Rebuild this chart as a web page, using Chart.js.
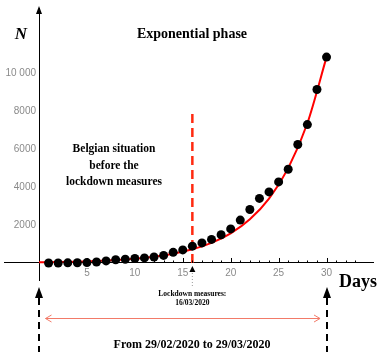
<!DOCTYPE html>
<html>
<head>
<meta charset="utf-8">
<script src="https://cdn.jsdelivr.net/npm/chart.js@4.4.1/dist/chart.umd.min.js"></script>
<style>
html,body{margin:0;padding:0;background:#fff;}
canvas{display:block;}
</style>
</head>
<body>
<canvas id="c" width="378" height="352"></canvas>
<script>
// ---- data ----
const days = [1,2,3,4,5,6,7,8,9,10,11,12,13,14,15,16,17,18,19,20,21,22,23,24,25,26,27,28,29,30];
const cases = [1,2,8,13,23,50,109,169,200,239,267,314,399,559,689,886,1058,1243,1486,1795,2257,2815,3401,3743,4269,4937,6235,7284,9134,10836];
const fitDays = [0,2,4,6,8,10,12,14,16,18,20,22,24,26,28,30];
const fitN = [33,48,70,104,153,225,332,489,720,1060,1562,2301,3390,4993,7356,10836];
const lockdownDay = [16,16];
const lockdownN = [0,7900];
const xLabelValues = [5,10,15,20,25,30];
const yLabelValues = [2000,4000,6000,8000,10000];
const yLabelTexts = ['2000','4000','6000','8000','10 000'];
const titleText = 'Exponential phase';
const yAxisName = 'N';
const xAxisName = 'Days';
const noteLines = ['Belgian situation','before the','lockdown measures'];
const lockdownLines = ['Lockdown measures:','16/03/2020'];
const periodText = 'From 29/02/2020 to 29/03/2020';

const SERIF = '"Liberation Serif", "DejaVu Serif", serif';
const SANS = '"Liberation Sans", Arial, sans-serif';

const annot = {
  id: 'annot',
  afterDraw(chart) {
    const {ctx, scales: {x, y}, chartArea} = chart;
    const x0 = x.getPixelForValue(0);
    const y0 = y.getPixelForValue(0);
    ctx.save();
    // inward tick marks
    ctx.strokeStyle = '#000';
    ctx.lineWidth = 1;
    y.ticks.forEach(t => {
      const v = t.value;
      if (v === 0 || Math.abs(v % 500) > 1e-6) return;
      const len = (v > 0 && v % 2000 === 0) ? 4 : 2.5;
      const py = Math.round(y.getPixelForValue(v)) + 0.5;
      ctx.beginPath(); ctx.moveTo(x0, py); ctx.lineTo(x0 + len, py); ctx.stroke();
    });
    x.ticks.forEach(t => {
      const v = t.value;
      if (v <= 0 || Math.abs(v - Math.round(v)) > 1e-6) return;
      const len = (v % 5 === 0) ? 5 : 2.5;
      const px = Math.round(x.getPixelForValue(v)) + 0.5;
      ctx.beginPath(); ctx.moveTo(px, y0); ctx.lineTo(px, y0 - len); ctx.stroke();
    });
    // y tick labels (drawn from the y scale)
    ctx.fillStyle = '#8a8a8a';
    ctx.font = '10px ' + SANS;
    ctx.textAlign = 'right';
    ctx.textBaseline = 'middle';
    yLabelValues.forEach((v, i) => ctx.fillText(yLabelTexts[i], x0 - 3, y.getPixelForValue(v)));

    // y axis arrow head
    ctx.fillStyle = '#000';
    ctx.beginPath();
    ctx.moveTo(x0, chartArea.top - 2);
    ctx.lineTo(x0 - 3, chartArea.top + 6);
    ctx.lineTo(x0 + 3, chartArea.top + 6);
    ctx.closePath(); ctx.fill();

    // texts
    ctx.fillStyle = '#000';
    ctx.textBaseline = 'alphabetic';
    ctx.textAlign = 'center';
    ctx.font = 'bold italic 17px ' + SERIF;
    ctx.fillText(yAxisName, 21, 39);
    ctx.font = 'bold 14px ' + SERIF;
    ctx.fillText(titleText, 192, 38);
    ctx.font = 'bold 11.5px ' + SERIF;
    noteLines.forEach((s, i) => ctx.fillText(s, 114, 152 + i * 16.5));
    ctx.textAlign = 'left';
    ctx.font = 'bold 18px ' + SERIF;
    ctx.fillText(xAxisName, 339, 287);

    // lockdown marker
    const xl = x.getPixelForValue(lockdownDay[0]);
    ctx.beginPath();
    ctx.moveTo(xl, y0 + 3);
    ctx.lineTo(xl - 3, y0 + 9);
    ctx.lineTo(xl + 3, y0 + 9);
    ctx.closePath(); ctx.fill();
    ctx.strokeStyle = '#999';
    ctx.setLineDash([1, 2]);
    ctx.beginPath(); ctx.moveTo(xl, y0 + 10); ctx.lineTo(xl, y0 + 24); ctx.stroke();
    ctx.setLineDash([]);
    ctx.textAlign = 'center';
    ctx.font = 'bold 7.5px ' + SERIF;
    ctx.fillText(lockdownLines[0], xl, 296);
    ctx.fillText(lockdownLines[1], xl, 305);

    // dashed black arrows at start and end
    [0, 30].forEach(d => {
      const px = Math.round(x.getPixelForValue(d));
      ctx.fillStyle = '#000';
      ctx.beginPath();
      ctx.moveTo(px, 287);
      ctx.lineTo(px - 4, 298);
      ctx.lineTo(px + 4, 298);
      ctx.closePath(); ctx.fill();
      ctx.strokeStyle = '#000';
      ctx.lineWidth = 2;
      ctx.setLineDash([7, 5]);
      ctx.beginPath(); ctx.moveTo(px, 298); ctx.lineTo(px, 352); ctx.stroke();
      ctx.setLineDash([]);
    });

    // red double arrow
    const ax1 = x.getPixelForValue(0) + 6.5, ax2 = x.getPixelForValue(30) - 6.5, ay = 318.5;
    ctx.strokeStyle = '#f27a68';
    ctx.lineWidth = 1;
    ctx.beginPath(); ctx.moveTo(ax1, ay); ctx.lineTo(ax2, ay); ctx.stroke();
    ctx.beginPath();
    ctx.moveTo(ax1 + 6, ay - 3.5); ctx.lineTo(ax1, ay); ctx.lineTo(ax1 + 6, ay + 3.5);
    ctx.moveTo(ax2 - 6, ay - 3.5); ctx.lineTo(ax2, ay); ctx.lineTo(ax2 - 6, ay + 3.5);
    ctx.stroke();

    ctx.fillStyle = '#000';
    ctx.font = 'bold 12px ' + SERIF;
    ctx.fillText(periodText, 192, 348);
    ctx.restore();
  }
};

new Chart(document.getElementById('c'), {
  type: 'scatter',
  data: {
    datasets: [
      {
        data: days.map((d, i) => ({x: d, y: cases[i]})),
        backgroundColor: '#000',
        borderColor: '#000',
        borderWidth: 0,
        pointRadius: 4.5,
        showLine: false,
        order: 0
      },
      {
        data: fitDays.map((d, i) => ({x: d, y: fitN[i]})),
        borderColor: '#ff0000',
        borderWidth: 2,
        pointRadius: 0,
        showLine: true,
        cubicInterpolationMode: 'monotone',
        order: 1
      },
      {
        data: lockdownDay.map((d, i) => ({x: d, y: lockdownN[i]})),
        borderColor: '#ff2a10',
        borderWidth: 2.5,
        borderDash: [9, 5],
        pointRadius: 0,
        showLine: true,
        order: 2
      }
    ]
  },
  options: {
    responsive: false,
    animation: false,
    devicePixelRatio: 1,
    layout: {padding: {top: 8, bottom: 72, left: 0, right: 0}},
    plugins: {legend: {display: false}, tooltip: {enabled: false}},
    scales: {
      x: {
        type: 'linear',
        min: -3.6,
        max: 34.9,
        position: {y: 0},
        grid: {display: false, drawTicks: false},
        border: {display: true, color: '#000', width: 1},
        ticks: {
          stepSize: 1,
          autoSkip: false,
          maxRotation: 0,
          padding: 4,
          color: '#8a8a8a',
          font: {family: SANS, size: 10},
          callback: v => xLabelValues.includes(v) ? String(v) : ''
        }
      },
      y: {
        type: 'linear',
        min: -895,
        max: 13421,
        position: {x: 0},
        grid: {display: false, drawTicks: false},
        border: {display: true, color: '#000', width: 1},
        ticks: {
          display: false,
          stepSize: 500,
          autoSkip: false
        }
      }
    }
  },
  plugins: [annot]
});
</script>
</body>
</html>
